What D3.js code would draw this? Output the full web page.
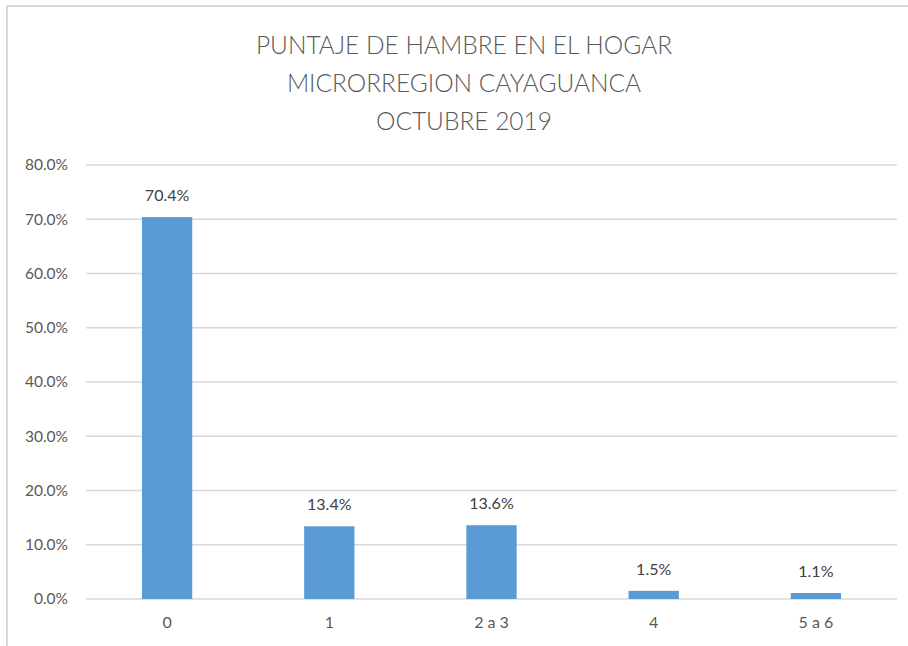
<!DOCTYPE html>
<html>
<head>
<meta charset="utf-8">
<script src="https://cdn.jsdelivr.net/npm/d3@7"></script>
<style>
  body { margin: 0; background: #fff; }
  svg { display: block; font-family: Lato, "Open Sans", sans-serif; }
</style>
</head>
<body>
<svg id="chart"></svg>
<script>
// chart data
const categories = ['0', '1', '2 a 3', '4', '5 a 6'];
const values = [70.4, 13.4, 13.6, 1.5, 1.1];
const yTicks = [0, 10, 20, 30, 40, 50, 60, 70, 80];
const titleLines = ['PUNTAJE DE HAMBRE EN EL HOGAR', 'MICRORREGION CAYAGUANCA', 'OCTUBRE 2019'];

const width = 908, height = 646;
const margin = {top: 165, right: 11, bottom: 47, left: 86};

const svg = d3.select('#chart')
    .attr('width', width)
    .attr('height', height);

// outer frame (top + left edge visible)
svg.append('line')
    .attr('x1', 6).attr('x2', width)
    .attr('y1', 6).attr('y2', 6)
    .attr('stroke', '#d9d9d9').attr('stroke-width', 2);
svg.append('line')
    .attr('x1', 7).attr('x2', 7)
    .attr('y1', 6).attr('y2', height)
    .attr('stroke', '#d9d9d9').attr('stroke-width', 2);

// title
svg.append('g')
    .selectAll('text')
    .data(titleLines)
    .join('text')
    .attr('x', 464)
    .attr('y', (d, i) => 54 + i * 38)
    .attr('text-anchor', 'middle')
    .attr('fill', '#595959')
    .style('font-size', '24.5px')
    .style('font-weight', 300)
    .text(d => d);

const x = d3.scaleBand()
    .domain(categories)
    .range([margin.left, width - margin.right])
    .paddingInner(0.69)
    .paddingOuter(0.345);

const y = d3.scaleLinear()
    .domain([0, 80])
    .range([height - margin.bottom, margin.top]);

// gridlines
svg.append('g')
    .selectAll('line')
    .data(yTicks)
    .join('line')
    .attr('x1', margin.left)
    .attr('x2', width - margin.right)
    .attr('y1', d => y(d))
    .attr('y2', d => y(d))
    .attr('stroke', '#d9d9d9')
    .attr('stroke-width', 1.5);

// y axis labels
const yAxis = d3.axisLeft(y)
    .tickValues(yTicks)
    .tickSize(0)
    .tickPadding(18)
    .tickFormat(d => d.toFixed(1) + '%');

svg.append('g')
    .attr('transform', `translate(${margin.left},0)`)
    .call(yAxis)
    .call(g => g.select('.domain').remove())
    .call(g => g.selectAll('text')
        .attr('fill', '#595959')
        .style('font-size', '15.5px')
        .style('font-family', 'Lato, "Open Sans", sans-serif'));

// bars
svg.append('g')
    .selectAll('rect')
    .data(values)
    .join('rect')
    .attr('x', (d, i) => x(categories[i]))
    .attr('width', x.bandwidth())
    .attr('y', d => y(d))
    .attr('height', d => y(0) - y(d))
    .attr('fill', '#5b9bd5');

// value labels
svg.append('g')
    .selectAll('text')
    .data(values)
    .join('text')
    .attr('x', (d, i) => x(categories[i]) + x.bandwidth() / 2)
    .attr('y', d => y(d) - 16)
    .attr('text-anchor', 'middle')
    .attr('fill', '#404040')
    .style('font-size', '16px')
    .text(d => d.toFixed(1) + '%');

// x axis labels
const xAxis = d3.axisBottom(x)
    .tickSize(0)
    .tickPadding(18);

svg.append('g')
    .attr('transform', `translate(0,${y(0)})`)
    .call(xAxis)
    .call(g => g.select('.domain').remove())
    .call(g => g.selectAll('text')
        .attr('fill', '#595959')
        .style('font-size', '16px')
        .style('font-family', 'Lato, "Open Sans", sans-serif'));
</script>
</body>
</html>
